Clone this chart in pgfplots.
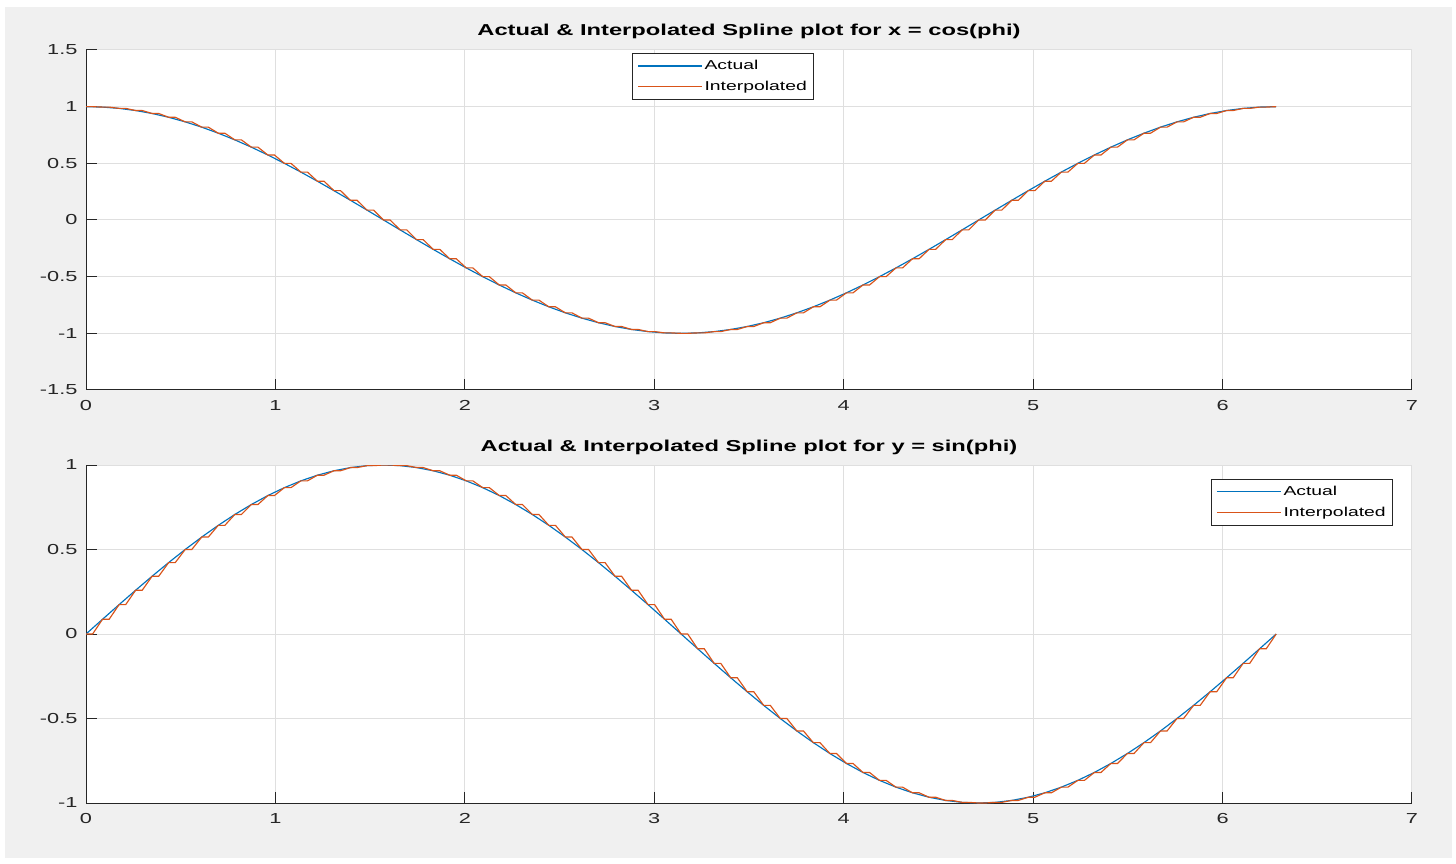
\documentclass[border=0pt]{standalone}
\usepackage{pgfplots}
\pgfplotsset{compat=1.18}
\usepackage{pgfplotstable}
\usepackage{fontspec}
\setmainfont{Liberation Sans}[FakeStretch=1.5]

\definecolor{mlblue}{rgb}{0,0.447,0.741}
\definecolor{mlorange}{rgb}{0.850,0.325,0.098}
\definecolor{figbg}{RGB}{240,240,240}
\definecolor{gridc}{RGB}{223,223,223}
\definecolor{axc}{RGB}{38,38,38}

% phi, x = cos(phi), y = sin(phi); every node is followed by the end of its flat hold
\pgfplotstableread{
x c s
0 1 0
0.0349 1 0
0.0873 0.9962 0.0872
0.1222 0.9962 0.0872
0.1745 0.9848 0.1736
0.2094 0.9848 0.1736
0.2618 0.9659 0.2588
0.2967 0.9659 0.2588
0.3491 0.9397 0.3420
0.3840 0.9397 0.3420
0.4363 0.9063 0.4226
0.4712 0.9063 0.4226
0.5236 0.8660 0.5
0.5585 0.8660 0.5
0.6109 0.8192 0.5736
0.6458 0.8192 0.5736
0.6981 0.7660 0.6428
0.7330 0.7660 0.6428
0.7854 0.7071 0.7071
0.8203 0.7071 0.7071
0.8727 0.6428 0.7660
0.9076 0.6428 0.7660
0.9599 0.5736 0.8192
0.9948 0.5736 0.8192
1.0472 0.5 0.8660
1.0821 0.5 0.8660
1.1345 0.4226 0.9063
1.1694 0.4226 0.9063
1.2217 0.3420 0.9397
1.2566 0.3420 0.9397
1.3090 0.2588 0.9659
1.3439 0.2588 0.9659
1.3963 0.1736 0.9848
1.4312 0.1736 0.9848
1.4835 0.0872 0.9962
1.5184 0.0872 0.9962
1.5708 0 1
1.6057 0 1
1.6581 -0.0872 0.9962
1.6930 -0.0872 0.9962
1.7453 -0.1736 0.9848
1.7802 -0.1736 0.9848
1.8326 -0.2588 0.9659
1.8675 -0.2588 0.9659
1.9199 -0.3420 0.9397
1.9548 -0.3420 0.9397
2.0071 -0.4226 0.9063
2.0420 -0.4226 0.9063
2.0944 -0.5 0.8660
2.1293 -0.5 0.8660
2.1817 -0.5736 0.8192
2.2166 -0.5736 0.8192
2.2689 -0.6428 0.7660
2.3038 -0.6428 0.7660
2.3562 -0.7071 0.7071
2.3911 -0.7071 0.7071
2.4435 -0.7660 0.6428
2.4784 -0.7660 0.6428
2.5307 -0.8192 0.5736
2.5656 -0.8192 0.5736
2.6180 -0.8660 0.5
2.6529 -0.8660 0.5
2.7053 -0.9063 0.4226
2.7402 -0.9063 0.4226
2.7925 -0.9397 0.3420
2.8274 -0.9397 0.3420
2.8798 -0.9659 0.2588
2.9147 -0.9659 0.2588
2.9671 -0.9848 0.1736
3.0020 -0.9848 0.1736
3.0543 -0.9962 0.0872
3.0892 -0.9962 0.0872
3.1416 -1 0
3.1765 -1 0
3.2289 -0.9962 -0.0872
3.2638 -0.9962 -0.0872
3.3161 -0.9848 -0.1736
3.3510 -0.9848 -0.1736
3.4034 -0.9659 -0.2588
3.4383 -0.9659 -0.2588
3.4907 -0.9397 -0.3420
3.5256 -0.9397 -0.3420
3.5779 -0.9063 -0.4226
3.6128 -0.9063 -0.4226
3.6652 -0.8660 -0.5
3.7001 -0.8660 -0.5
3.7525 -0.8192 -0.5736
3.7874 -0.8192 -0.5736
3.8397 -0.7660 -0.6428
3.8746 -0.7660 -0.6428
3.9270 -0.7071 -0.7071
3.9619 -0.7071 -0.7071
4.0143 -0.6428 -0.7660
4.0492 -0.6428 -0.7660
4.1015 -0.5736 -0.8192
4.1364 -0.5736 -0.8192
4.1888 -0.5 -0.8660
4.2237 -0.5 -0.8660
4.2761 -0.4226 -0.9063
4.3110 -0.4226 -0.9063
4.3633 -0.3420 -0.9397
4.3982 -0.3420 -0.9397
4.4506 -0.2588 -0.9659
4.4855 -0.2588 -0.9659
4.5379 -0.1736 -0.9848
4.5728 -0.1736 -0.9848
4.6251 -0.0872 -0.9962
4.6600 -0.0872 -0.9962
4.7124 0 -1
4.7473 0 -1
4.7997 0.0872 -0.9962
4.8346 0.0872 -0.9962
4.8869 0.1736 -0.9848
4.9218 0.1736 -0.9848
4.9742 0.2588 -0.9659
5.0091 0.2588 -0.9659
5.0615 0.3420 -0.9397
5.0964 0.3420 -0.9397
5.1487 0.4226 -0.9063
5.1836 0.4226 -0.9063
5.2360 0.5 -0.8660
5.2709 0.5 -0.8660
5.3233 0.5736 -0.8192
5.3582 0.5736 -0.8192
5.4105 0.6428 -0.7660
5.4454 0.6428 -0.7660
5.4978 0.7071 -0.7071
5.5327 0.7071 -0.7071
5.5851 0.7660 -0.6428
5.6200 0.7660 -0.6428
5.6723 0.8192 -0.5736
5.7072 0.8192 -0.5736
5.7596 0.8660 -0.5
5.7945 0.8660 -0.5
5.8469 0.9063 -0.4226
5.8818 0.9063 -0.4226
5.9341 0.9397 -0.3420
5.9690 0.9397 -0.3420
6.0214 0.9659 -0.2588
6.0563 0.9659 -0.2588
6.1087 0.9848 -0.1736
6.1436 0.9848 -0.1736
6.1959 0.9962 -0.0872
6.2308 0.9962 -0.0872
6.2832 1 0
}\phitable

\pgfplotsset{
  mlaxis/.style={
    scale only axis, width=1326pt,
    xmin=0, xmax=7, xtick={0,1,2,3,4,5,6,7},
    axis lines*=left,
    axis line style={axc, line width=1pt, -},
    tick align=inside, major tick length=11pt,
    tick style={axc, line width=1pt},
    grid=major, grid style={gridc, line width=1pt},
    axis background/.style={fill=white},
    tick label style={font=\fontsize{14.5}{17}\selectfont, text=axc},
    /pgf/number format/assume math mode=true,
    xticklabel style={yshift=-7pt},
    yticklabel style={xshift=-5pt},
    title style={font=\bfseries\fontsize{15.8}{18}\selectfont, at={(0.5,1)}, anchor=base, yshift=8pt},
    legend cell align=left,
    legend image code/.code={\draw[##1] (0pt,0pt) -- (64pt,0pt);},
    legend style={draw=axc, line width=0.8pt, fill=white,
      inner xsep=5pt, inner ysep=4pt, row sep=3.7pt,
      font=\fontsize{12.9}{15}\selectfont,
      nodes={inner sep=2pt, text height=10pt, text depth=3pt}},
  },
  actual/.style={mlblue, line width=1.15pt, each nth point=2},
  interp/.style={mlorange, line width=1.15pt},
}

\begin{document}
\begin{tikzpicture}
\useasboundingbox (0,0) rectangle (1456pt,863pt);
\fill[white] (0,0) rectangle (1456pt,863pt);
\fill[figbg] (5pt,5pt) rectangle (1452pt,856pt);

% x = cos(phi)
\begin{axis}[mlaxis,
  at={(86pt,473pt)}, anchor=south west, height=340pt,
  ymin=-1.5, ymax=1.5, ytick={-1.5,-1,-0.5,0,0.5,1,1.5},
  title={Actual \& Interpolated Spline plot for x = cos(phi)},
  legend style={at={(0.4118,0.991)}, anchor=north west}]
\addplot[actual] table[x=x, y=c] {\phitable};
\addplot[interp] table[x=x, y=c] {\phitable};
\legend{Actual, Interpolated}
\end{axis}

% y = sin(phi)
\begin{axis}[mlaxis,
  at={(86pt,60pt)}, anchor=south west, height=338pt,
  ymin=-1, ymax=1, ytick={-1,-0.5,0,0.5,1},
  title={Actual \& Interpolated Spline plot for y = sin(phi)},
  legend style={at={(0.8484,0.9586)}, anchor=north west}]
\addplot[actual] table[x=x, y=s] {\phitable};
\addplot[interp] table[x=x, y=s] {\phitable};
\legend{Actual, Interpolated}
\end{axis}
\end{tikzpicture}
\end{document}
